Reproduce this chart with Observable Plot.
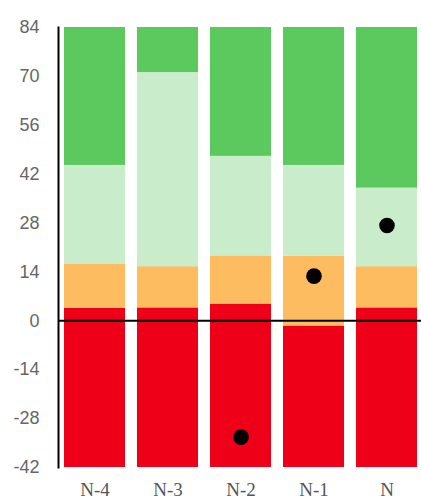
<!DOCTYPE html>
<html><head><meta charset="utf-8">
<script src="https://cdn.jsdelivr.net/npm/d3@7"></script>
<script src="https://cdn.jsdelivr.net/npm/@observablehq/plot@0.6"></script>
<style>body{margin:0;background:#fff;overflow:hidden}</style>
</head><body><div id="chart"></div>
<script>
const categories = ["N-4", "N-3", "N-2", "N-1", "N"];
const redTop = [3.6, 3.7, 4.8, -1.5, 3.7];
const orangeTop = [16.3, 15.5, 18.6, 18.5, 15.5];
const lightTop = [44.5, 71.1, 47.1, 44.5, 38.0];
const dotValues = [null, null, -33.3, 12.8, 27.3];
const yTicks = [-42, -28, -14, 0, 14, 28, 42, 56, 70, 84];
const yMin = -42, yMax = 84;
const bandNames = ["red", "orange", "light", "green"];
const bandColors = ["#EE0118", "#FDBC5F", "#C9ECCA", "#5CC95F"];

const segments = [];
categories.forEach((c, i) => {
  const edges = [yMin, redTop[i], orangeTop[i], lightTop[i], yMax];
  bandNames.forEach((b, k) => segments.push({cat: c, band: b, y1: edges[k], y2: edges[k + 1]}));
});
const dots = categories.map((c, i) => ({cat: c, v: dotValues[i]})).filter(d => d.v != null);

const chart = Plot.plot({
  width: 421,
  height: 503,
  marginLeft: 58,
  marginRight: 0,
  marginTop: 27,
  marginBottom: 36,
  x: {domain: categories, range: [58, 423.5], paddingInner: 0.17, paddingOuter: 0.086},
  y: {domain: [yMin, yMax]},
  color: {domain: bandNames, range: bandColors},
  marks: [
    Plot.barY(segments, {x: "cat", y1: "y1", y2: "y2", fill: "band", inset: 0}),
    Plot.ruleY([0], {stroke: "#000", strokeWidth: 2}),
    Plot.frame({anchor: "left", stroke: "#000", strokeWidth: 2}),
    Plot.dot(dots, {x: "cat", y: "v", r: 7.8, fill: "#000", stroke: "none"}),
    Plot.axisY({ticks: yTicks, tickFormat: d => String(d), tickSize: 0, tickPadding: 19, label: null,
      fontSize: 18, fill: "#666", fontFamily: "Liberation Sans, Arial, sans-serif"}),
    Plot.axisX({tickSize: 0, tickPadding: 15, label: null,
      fontSize: 19, fill: "#555", fontFamily: "Liberation Serif, Times New Roman, serif"})
  ]
});
document.getElementById("chart").appendChild(chart);
</script>
</body></html>
